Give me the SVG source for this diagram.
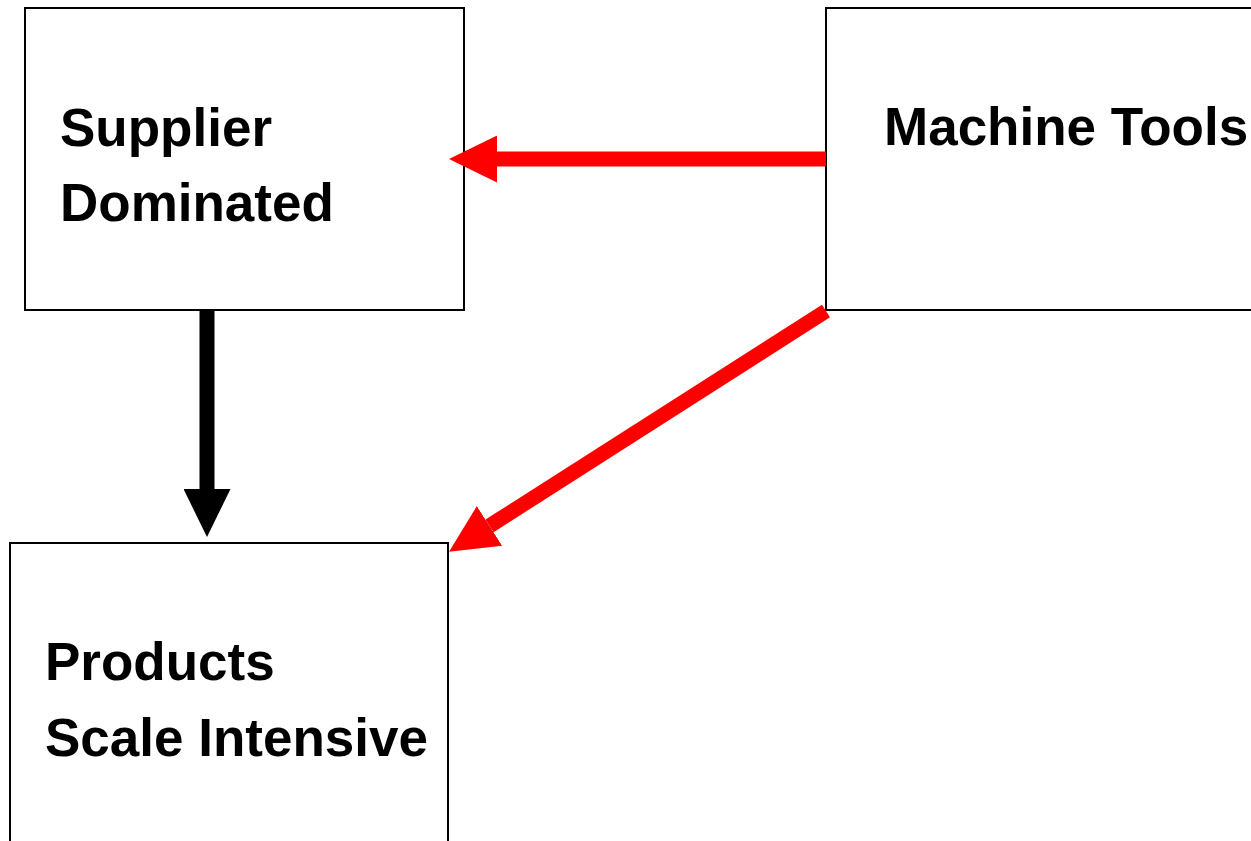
<svg xmlns="http://www.w3.org/2000/svg" width="1251" height="841" viewBox="0 0 1251 841">
  <style>
    .box { fill: #ffffff; stroke: #000000; stroke-width: 2; }
    .label { font-family: "Liberation Sans", Arial, sans-serif; font-weight: bold; font-size: 53px; fill: #000000; }
    .red { stroke: #ff0000; stroke-width: 15; fill: none; marker-end: url(#head-red); }
    .black { stroke: #000000; stroke-width: 15; fill: none; marker-end: url(#head-black); }
  </style>
  <defs>
    <marker id="head-red" viewBox="0 0 48 47" markerWidth="48" markerHeight="47" markerUnits="userSpaceOnUse" refX="0" refY="23.5" orient="auto">
      <path d="M0,0 L48,23.5 L0,47 Z" fill="#ff0000"/>
    </marker>
    <marker id="head-black" viewBox="0 0 48 47" markerWidth="48" markerHeight="47" markerUnits="userSpaceOnUse" refX="0" refY="23.5" orient="auto">
      <path d="M0,0 L48,23.5 L0,47 Z" fill="#000000"/>
    </marker>
  </defs>
  <rect width="1251" height="841" fill="#ffffff"/>

  <g id="supplier-dominated">
    <rect class="box" x="25" y="8" width="439" height="302"/>
    <text class="label" x="60" y="146">Supplier</text>
    <text class="label" x="60" y="221">Dominated</text>
  </g>

  <g id="machine-tools">
    <rect class="box" x="826" y="8" width="460" height="302"/>
    <text class="label" x="884" y="145">Machine Tools</text>
  </g>

  <g id="products-scale-intensive">
    <rect class="box" x="10" y="543" width="438" height="330"/>
    <text class="label" x="45" y="680">Products</text>
    <text class="label" x="45" y="756">Scale Intensive</text>
  </g>

  <g id="connectors">
    <line class="red" x1="826" y1="159" x2="497" y2="159"/>
    <line class="black" x1="207" y1="310" x2="207" y2="489"/>
    <line class="red" x1="826" y1="311" x2="489.5" y2="525.9"/>
  </g>
</svg>
